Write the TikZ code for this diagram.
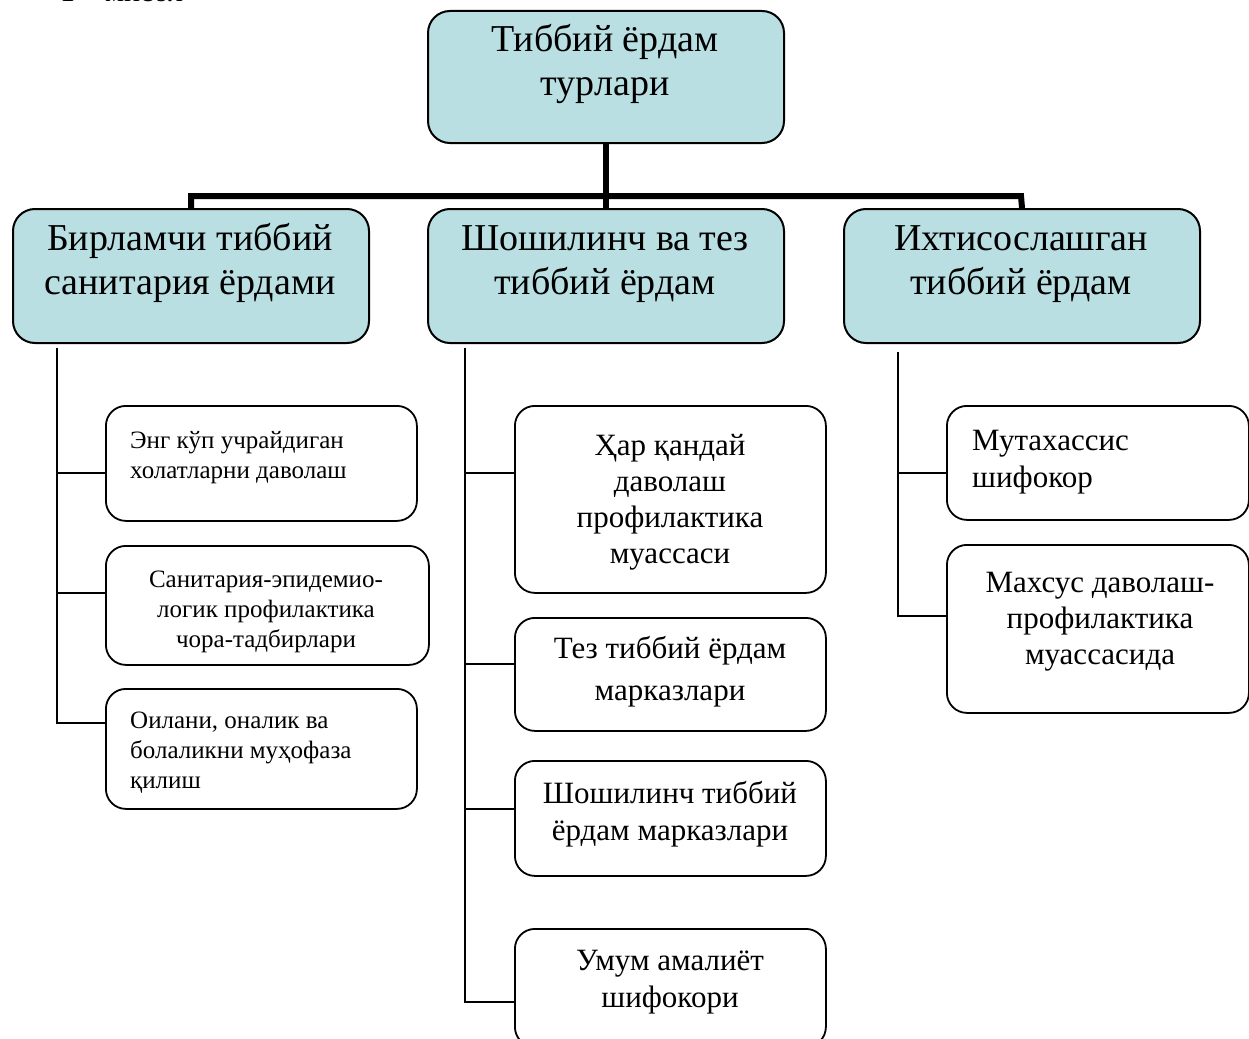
\documentclass[tikz,border=0pt]{standalone}
\usepackage{fontspec}
\setmainfont{Liberation Serif}
\definecolor{boxblue}{RGB}{185,223,227}
\begin{document}
\begin{tikzpicture}[x=1pt,y=-1pt,
  topbox/.style={draw=black, line width=2pt, fill=boxblue, rounded corners=22pt, minimum width=356pt, minimum height=134pt, anchor=north west, inner sep=0pt},
  subbox/.style={draw=black, line width=1.8pt, rounded corners=20pt, anchor=north west, inner sep=0pt},
  bigtxt/.style={font=\fontsize{38}{44}\selectfont, align=center, anchor=base, inner sep=0pt},
  smalltxt/.style={font=\fontsize{25}{30}\selectfont, inner sep=0pt},
  midtxt/.style={font=\fontsize{31}{36}\selectfont, align=center, anchor=base, inner sep=0pt},
  bus/.style={line width=6pt},
  conn/.style={line width=1.6pt}]
\useasboundingbox (0,0) rectangle (1249,1038);
\clip (0,0) rectangle (1249,1038);

\node[font=\fontsize{30}{36}\selectfont, anchor=base west, inner sep=0pt] (cap) at (60,2) {1 – мисол};

% top level
\node[topbox, minimum height=132pt] (root) at (427,10) {};
\node[topbox] (b1) at (12,208) {};
\node[topbox] (b2) at (427,208) {};
\node[topbox] (b3) at (843,208) {};

% (anchor base = baseline of the last line)
\node[bigtxt] (troot) at (605,96) {Тиббий ёрдам\\турлари};
\node[bigtxt] (tb1) at (190,294) {Бирламчи тиббий\\санитария ёрдами};
\node[bigtxt] (tb2) at (605,294) {Шошилинч ва тез\\тиббий ёрдам};
\node[bigtxt] (tb3) at (1021,294) {Ихтисослашган\\тиббий ёрдам};

% left column
\node[subbox, minimum width=311pt, minimum height=115pt] (c1) at (105,405) {};
\node[subbox, minimum width=323pt, minimum height=119pt] (c2) at (105,545) {};
\node[subbox, minimum width=311pt, minimum height=120pt] (c3) at (105,688) {};
\node[smalltxt, align=left, anchor=base west] (tc1) at (130,478) {Энг кўп учрайдиган\\холатларни даволаш};
\node[smalltxt, align=center, anchor=base] (tc2) at (266,647) {Санитария-эпидемио-\\логик профилактика\\чора-тадбирлари};
\node[smalltxt, align=left, anchor=base west] (tc3) at (130,788) {Оилани, оналик ва\\болаликни муҳофаза\\қилиш};

% middle column
\node[subbox, minimum width=311pt, minimum height=187pt] (m1) at (514,405) {};
\node[subbox, minimum width=311pt, minimum height=113pt] (m2) at (514,617) {};
\node[subbox, minimum width=311pt, minimum height=115pt] (m3) at (514,760) {};
\node[subbox, minimum width=311pt, minimum height=118pt] (m4) at (514,928) {};
\node[midtxt] (tm1) at (670,563) {Ҳар қандай\\даволаш\\профилактика\\муассаси};
\node[midtxt, font=\fontsize{31}{42}\selectfont] (tm2) at (670,700) {Тез тиббий ёрдам\\марказлари};
\node[midtxt, font=\fontsize{31}{37}\selectfont] (tm3) at (670,840) {Шошилинч тиббий\\ёрдам марказлари};
\node[midtxt, font=\fontsize{31}{37}\selectfont] (tm4) at (670,1007) {Умум амалиёт\\шифокори};

% right column
\node[subbox, minimum width=302pt, minimum height=114pt] (r1) at (946,405) {};
\node[subbox, minimum width=302pt, minimum height=168pt] (r2) at (946,544) {};
\node[midtxt, font=\fontsize{31}{37}\selectfont, align=left, anchor=base west] (tr1) at (972,487) {Мутахассис\\шифокор};
\node[midtxt] (tr2) at (1100,664) {Махсус даволаш-\\профилактика\\муассасида};

% bus
\coordinate (busR) at (1021,196);
\draw[bus] (root.south) -- (b2.north);
\draw[bus] (b1.north) |- (busR) -- (b3.north);

% left trunk
\coordinate (lt) at (57,348);
\coordinate (c1in) at ([yshift=-9.5pt]c1.west);
\coordinate (c2in) at ([yshift=12.5pt]c2.west);
\coordinate (c3in) at ([yshift=26pt]c3.west);
\draw[conn] (lt) |- (c3in);
\draw[conn] (lt |- c1in) -- (c1in);
\draw[conn] (lt |- c2in) -- (c2in);

% middle trunk
\coordinate (mt) at (465,348);
\coordinate (m1in) at ([yshift=26.5pt]m1.west);
\coordinate (m2in) at ([yshift=10.5pt]m2.west);
\coordinate (m3in) at ([yshift=9.5pt]m3.west);
\coordinate (m4in) at ([yshift=-14pt]m4.west);
\draw[conn] (mt) |- (m4in);
\draw[conn] (mt |- m1in) -- (m1in);
\draw[conn] (mt |- m2in) -- (m2in);
\draw[conn] (mt |- m3in) -- (m3in);

% right trunk
\coordinate (rt) at (898,352);
\coordinate (r1in) at ([yshift=-10pt]r1.west);
\coordinate (r2in) at ([yshift=13pt]r2.west);
\draw[conn] (rt) |- (r2in);
\draw[conn] (rt |- r1in) -- (r1in);
\end{tikzpicture}
\end{document}
